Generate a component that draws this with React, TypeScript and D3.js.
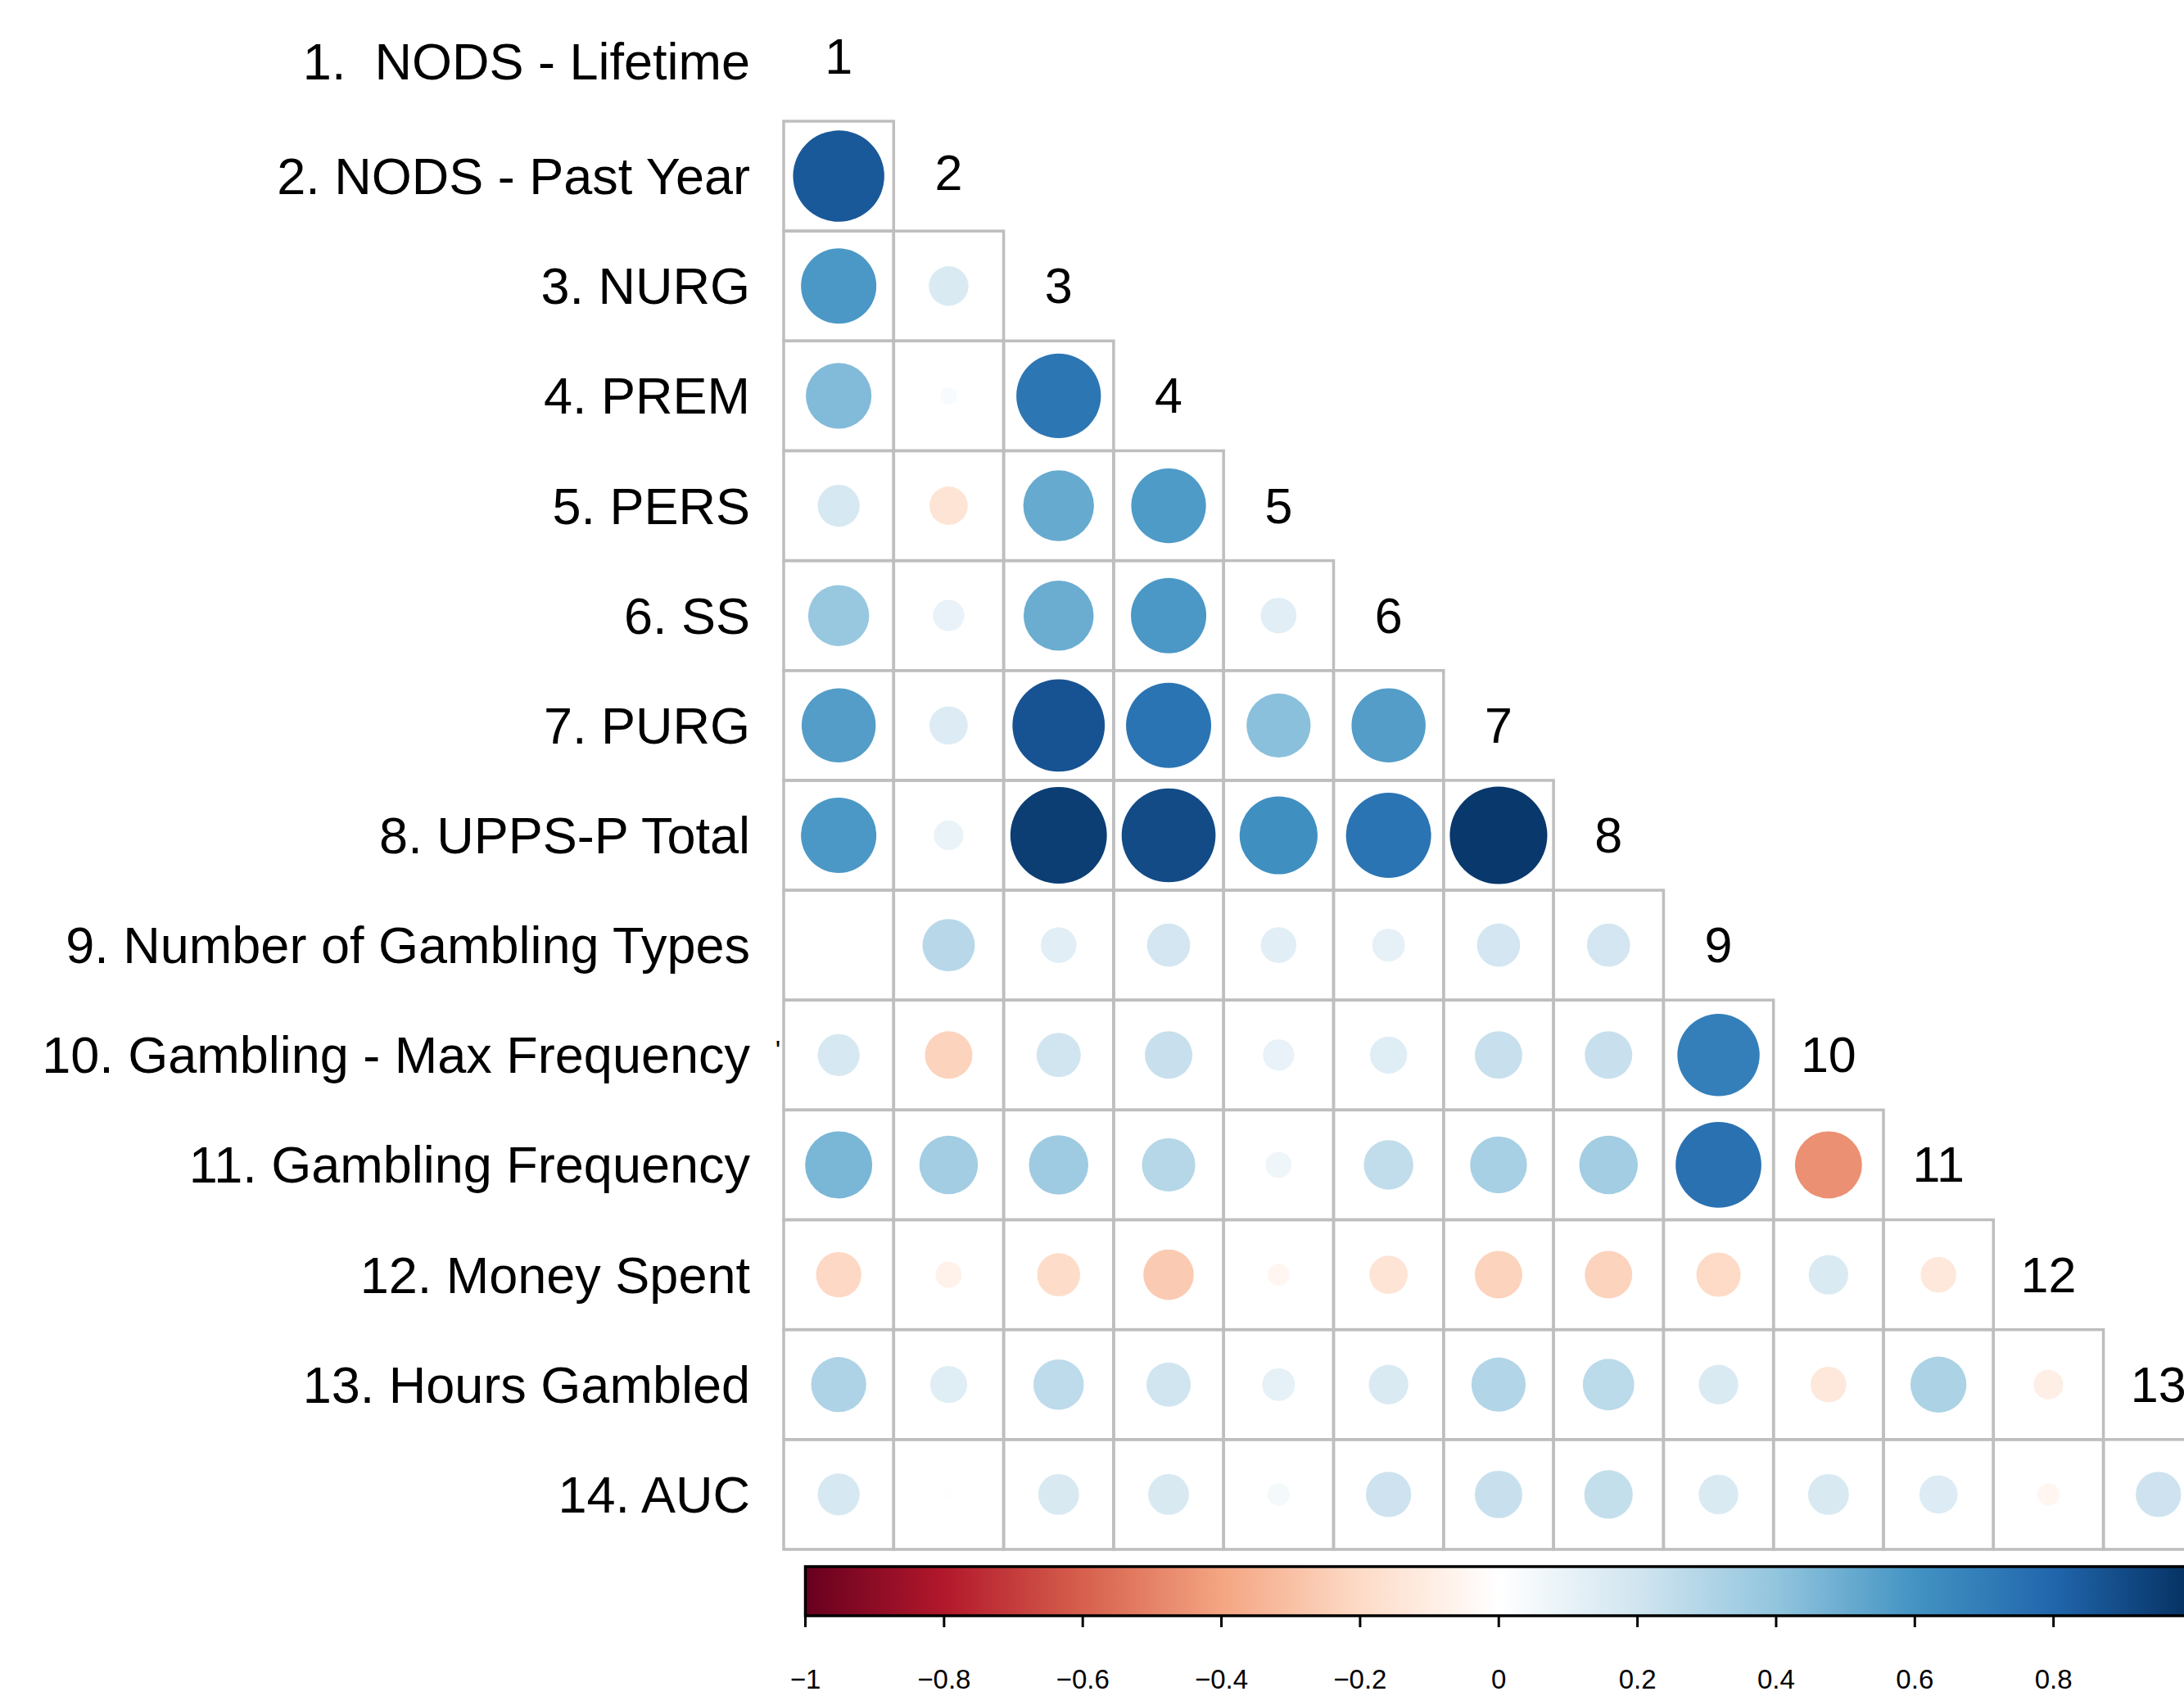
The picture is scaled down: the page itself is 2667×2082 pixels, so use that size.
import React, { useEffect } from "react";
import * as d3 from "d3";

// ---------- DATA ----------
const VARIABLES = [
  "1.  NODS - Lifetime",
  "2. NODS - Past Year",
  "3. NURG",
  "4. PREM",
  "5. PERS",
  "6. SS",
  "7. PURG",
  "8. UPPS-P Total",
  "9. Number of Gambling Types",
  "10. Gambling - Max Frequency",
  "11. Gambling Frequency",
  "12. Money Spent",
  "13. Hours Gambled",
  "14. AUC",
];

const DIAG_LABELS = ["1", "2", "3", "4", "5", "6", "7", "8", "9", "10", "11", "12", "13", "14"];

// lower triangle correlations, row i (0-based) has i values (columns 0..i-1)
const ROW_2 = [0.85];
const ROW_3 = [0.58, 0.16];
const ROW_4 = [0.44, 0.03, 0.73];
const ROW_5 = [0.18, -0.15, 0.51, 0.57];
const ROW_6 = [0.38, 0.1, 0.5, 0.58, 0.13];
const ROW_7 = [0.56, 0.15, 0.87, 0.74, 0.42, 0.56];
const ROW_8 = [0.58, 0.09, 0.95, 0.9, 0.62, 0.74, 0.97];
const ROW_9 = [0.01, 0.28, 0.13, 0.19, 0.13, 0.11, 0.19, 0.19];
const ROW_10 = [0.18, -0.23, 0.2, 0.23, 0.1, 0.14, 0.23, 0.23, 0.69];
const ROW_11 = [0.46, 0.35, 0.36, 0.29, 0.07, 0.25, 0.33, 0.35, 0.75, -0.46];
const ROW_12 = [-0.21, -0.07, -0.19, -0.26, -0.05, -0.15, -0.23, -0.23, -0.2, 0.16, -0.13];
const ROW_13 = [0.31, 0.14, 0.26, 0.2, 0.11, 0.16, 0.3, 0.27, 0.16, -0.13, 0.32, -0.09];
const ROW_14 = [0.18, 0.01, 0.17, 0.17, 0.05, 0.21, 0.23, 0.24, 0.16, 0.17, 0.15, -0.05, 0.21];

const LOWER_ROWS = [[], ROW_2, ROW_3, ROW_4, ROW_5, ROW_6, ROW_7, ROW_8, ROW_9, ROW_10, ROW_11, ROW_12, ROW_13, ROW_14];

const COLOR_STOPS = [-1, -0.8, -0.6, -0.4, -0.2, 0, 0.2, 0.4, 0.6, 0.8, 1];
const RDBU = ["#67001F", "#B2182B", "#D6604D", "#F4A582", "#FDDBC7", "#FFFFFF", "#D1E5F0", "#92C5DE", "#4393C3", "#2166AC", "#053061"];

const LEGEND_TICKS = [-1, -0.8, -0.6, -0.4, -0.2, 0, 0.2, 0.4, 0.6, 0.8, 1];
const LEGEND_TICK_LABELS = ["\u22121", "\u22120.8", "\u22120.6", "\u22120.4", "\u22120.2", "0", "0.2", "0.4", "0.6", "0.8", "1"];

// ---------- LAYOUT ----------
const W = 2667;
const H = 2082;
const GRID_LEFT = 957;
const CELL_W = 134.3;
const CELL_H = 134.15;
const GRID_TOP_ROW2 = 148;
const FONT = "'Liberation Sans', Arial, Helvetica, sans-serif";

export default function App() {
  useEffect(() => {
    document.body.style.margin = "0";
    document.body.style.overflow = "hidden";
  }, []);

  const n = VARIABLES.length;
  const x = d3
    .scaleBand<number>()
    .domain(d3.range(n))
    .range([GRID_LEFT, GRID_LEFT + n * CELL_W])
    .padding(0);
  const y = d3
    .scaleBand<number>()
    .domain(d3.range(n))
    .range([GRID_TOP_ROW2 - CELL_H, GRID_TOP_ROW2 + (n - 1) * CELL_H])
    .padding(0);

  const color = d3.scaleLinear<string>().domain(COLOR_STOPS).range(RDBU).interpolate(d3.interpolateRgb);
  const radius = (r: number) => 0.45 * Math.sqrt(Math.abs(r)) * x.bandwidth();

  const cells: { i: number; j: number; r: number }[] = [];
  LOWER_ROWS.forEach((row, i) => row.forEach((r, j) => cells.push({ i, j, r })));

  const legendX = d3.scaleLinear().domain([-1, 1]).range([983.5, 2677]);
  const legendTop = 1913;
  const legendH = 60;

  return (
    <svg
      width={W}
      height={H}
      viewBox={`0 0 ${W} ${H}`}
      style={{ position: "absolute", left: 0, top: 0, background: "#fff" }}
    >
      <defs>
        <linearGradient id="rdbu" x1="0" x2="1" y1="0" y2="0">
          {COLOR_STOPS.map((s, k) => (
            <stop key={k} offset={`${((s + 1) / 2) * 100}%`} stopColor={RDBU[k]} />
          ))}
        </linearGradient>
      </defs>
      <rect width={W} height={H} fill="#fff" />

      {/* grid cells */}
      <g>
        {cells.map((c) => (
          <rect
            key={`g-${c.i}-${c.j}`}
            x={x(c.j)}
            y={y(c.i)}
            width={x.bandwidth()}
            height={y.bandwidth()}
            fill="none"
            stroke="#BEBEBE"
            strokeWidth={3.5}
          />
        ))}
      </g>

      {/* circles */}
      <g>
        {cells.map((c) => (
          <circle
            key={`c-${c.i}-${c.j}`}
            cx={(x(c.j) as number) + x.bandwidth() / 2}
            cy={(y(c.i) as number) + y.bandwidth() / 2}
            r={radius(c.r)}
            fill={color(c.r)}
          />
        ))}
      </g>

      {/* row labels */}
      <g fontFamily={FONT} fontSize={63} fill="#000">
        {VARIABLES.map((v, i) => (
          <text
            key={`rl-${i}`}
            x={916}
            y={(y(i) as number) + y.bandwidth() / 2 + (i === 0 ? -6 : 0)}
            textAnchor="end"
            dominantBaseline="central"
            style={{ whiteSpace: "pre" }}
          >
            {v}
          </text>
        ))}
        {/* small stray mark after row 10 label */}
        <text x={950} y={(y(9) as number) + y.bandwidth() / 2 - 6} fontSize={34} textAnchor="middle" dominantBaseline="central">
          '
        </text>
      </g>

      {/* diagonal number labels */}
      <g fontFamily={FONT} fontSize={61} fill="#000">
        {DIAG_LABELS.map((t, i) => (
          <text
            key={`dl-${i}`}
            x={(x(i) as number) + x.bandwidth() / 2}
            y={(y(i) as number) + y.bandwidth() / 2 + (i === 0 ? -12 : i === 1 ? -4 : 0)}
            textAnchor="middle"
            dominantBaseline="central"
          >
            {t}
          </text>
        ))}
      </g>

      {/* colour legend */}
      <g>
        <rect
          x={legendX(-1)}
          y={legendTop}
          width={legendX(1) - legendX(-1)}
          height={legendH}
          fill="url(#rdbu)"
          stroke="#000"
          strokeWidth={3.5}
        />
        {LEGEND_TICKS.map((t, k) => (
          <g key={`lt-${k}`}>
            <line
              x1={legendX(t)}
              x2={legendX(t)}
              y1={legendTop + legendH}
              y2={legendTop + legendH + 14}
              stroke="#000"
              strokeWidth={3}
            />
            <text
              x={legendX(t)}
              y={2050}
              textAnchor="middle"
              dominantBaseline="central"
              fontFamily={FONT}
              fontSize={33}
              fill="#000"
            >
              {LEGEND_TICK_LABELS[k]}
            </text>
          </g>
        ))}
      </g>
    </svg>
  );
}
